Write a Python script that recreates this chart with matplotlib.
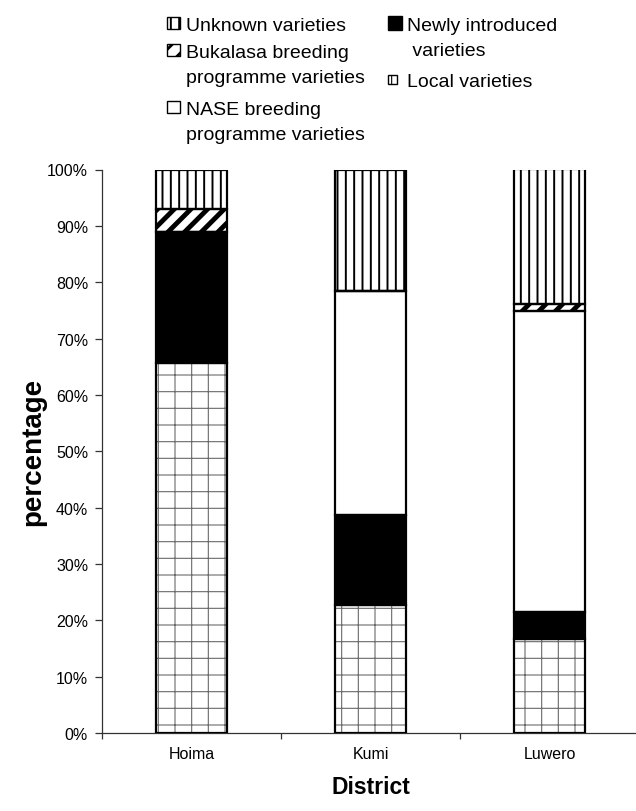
import matplotlib
matplotlib.use("Agg")
import matplotlib.pyplot as plt
import numpy as np
from matplotlib.patches import Rectangle
from matplotlib.ticker import FixedLocator, PercentFormatter

plt.rcParams['font.family'] = ['Liberation Sans', 'DejaVu Sans']

# ---------------- data ----------------
districts = ["Hoima", "Kumi", "Luwero"]
local_varieties = [65.7, 22.7, 16.7]
newly_introduced = [23.2, 15.9, 4.8]
nase_varieties = [0.0, 39.8, 53.4]
bukalasa_varieties = [4.1, 0.0, 1.3]
unknown_varieties = [7.0, 21.6, 23.8]
y_ticks = [0, 10, 20, 30, 40, 50, 60, 70, 80, 90, 100]

series_names = ["Local varieties", "Newly introduced\n varieties",
                "NASE breeding\nprogramme varieties",
                "Bukalasa breeding\nprogramme varieties", "Unknown varieties"]
series_values = [local_varieties, newly_introduced, nase_varieties,
                 bukalasa_varieties, unknown_varieties]

# styles: facecolor, hatch, hatch colour, hatch linewidth
styles = {
    "Local varieties": ("white", "+", "#6a6a6a", 0.8),
    "Newly introduced\n varieties": ("black", None, "black", 1.0),
    "NASE breeding\nprogramme varieties": ("white", None, "black", 1.0),
    "Bukalasa breeding\nprogramme varieties": ("white", "//", "black", 3.5),
    "Unknown varieties": ("white", "||", "black", 1.4),
}

W, H = 636, 812
fig = plt.figure(figsize=(W / 100, H / 100), dpi=100)
ax = fig.add_axes([102 / W, 1 - 734 / H, (639 - 102) / W, (734 - 170.5) / H])

x = np.arange(len(districts))
bottom = np.zeros(len(districts))
for name, vals in zip(series_names, series_values):
    fc, hatch, hc, hlw = styles[name]
    vals = np.asarray(vals, dtype=float)
    with plt.rc_context({'hatch.linewidth': hlw}):
        if hatch is not None:
            bars = ax.bar(x, vals, 0.4, bottom=bottom, color=fc, edgecolor=hc,
                          hatch=hatch, linewidth=0, zorder=2)
            for b in bars:
                if hasattr(b, "set_hatch_linewidth"):
                    b.set_hatch_linewidth(hlw)
        else:
            ax.bar(x, vals, 0.4, bottom=bottom, color=fc, linewidth=0, zorder=2)
    ax.bar(x, vals, 0.4, bottom=bottom, fill=False, edgecolor="black",
           linewidth=1.6, zorder=3)
    bottom += vals

ax.set_xlim(-0.5, len(districts) - 0.5)
ax.set_ylim(0, 100)
ax.yaxis.set_major_locator(FixedLocator(y_ticks))
ax.yaxis.set_major_formatter(PercentFormatter(decimals=0))
ax.set_xticks(x)
ax.set_xticklabels(districts)
ax.xaxis.set_minor_locator(FixedLocator(np.arange(len(districts) + 1) - 0.5))
ax.tick_params(axis='x', which='major', length=0, pad=9.5, labelsize=11.5)
ax.tick_params(axis='x', which='minor', length=4.5, width=0.9, color='#333333', direction='out')
ax.tick_params(axis='y', which='major', length=5, width=0.9, color='#333333', pad=5, labelsize=11.5)
for s in ("top", "right"):
    ax.spines[s].set_visible(False)
for s in ("left", "bottom"):
    ax.spines[s].set_color('#333333')
    ax.spines[s].set_linewidth(0.9)

ax.set_xlabel("District", fontsize=16.5, fontweight='bold')
ax.xaxis.set_label_coords(0.5, -0.075)
ax.xaxis.label.set_va('top')
ax.set_ylabel("percentage", fontsize=20, fontweight='bold')
ax.yaxis.set_label_coords(-0.104, 0.5)

# ---------------- legend (two columns, drawn in figure pixels) ----------------
def fx(px):
    return px / W

def fy(py):
    return 1 - py / H

legend_order = ["Unknown varieties", "Bukalasa breeding\nprogramme varieties",
                "NASE breeding\nprogramme varieties", "Newly introduced\n varieties",
                "Local varieties"]
legend_layout = [(167, 186, 31, 12.5), (167, 186, 58, 12.5), (167, 186, 115, 12.5),
                 (388, 407, 31, 13.5), (388, 407, 87, 9)]
line_gap = 25
for name, (hx, tx, base, hs) in zip(legend_order, legend_layout):
    fc, hatch, hc, hlw = styles[name]
    cy = base - 6.9
    lw_h = min(hlw, 2.0)
    with plt.rc_context({'hatch.linewidth': lw_h}):
        r = Rectangle((fx(hx), fy(cy + hs / 2)), hs / W, hs / H, transform=fig.transFigure,
                      facecolor=fc, edgecolor="black", linewidth=1.0,
                      hatch=hatch)
        if hatch is not None and hasattr(r, "set_hatch_linewidth"):
            r.set_hatch_linewidth(lw_h)
    fig.add_artist(r)
    for i, line in enumerate(name.split("\n")):
        fig.text(fx(tx), fy(base + i * line_gap), line, fontsize=14,
                 ha='left', va='baseline')

fig.savefig("out.png", dpi=100)
